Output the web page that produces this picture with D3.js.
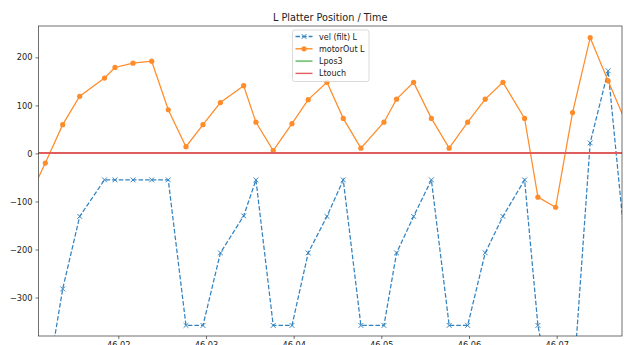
<!DOCTYPE html>
<html>
<head>
<meta charset="utf-8">
<script src="https://cdn.jsdelivr.net/npm/d3@7"></script>
<style>
  body { margin: 0; background: #fff; }
  text { font-family: 'DejaVu Sans', sans-serif; fill: #222; }
</style>
</head>
<body>
<div id="chart"></div>
<script>
const times = [
  46.00959, 46.01168, 46.01366, 46.0156, 46.01843, 46.01962, 46.02168, 46.02381,
  46.0257, 46.02772, 46.02966, 46.03165, 46.0343, 46.0357, 46.03767, 46.03981,
  46.04166, 46.0438, 46.04566, 46.04767, 46.0503, 46.05174, 46.05368, 46.05571,
  46.05774, 46.05985, 46.06185, 46.06387, 46.06634, 46.06786, 46.06988, 46.07181,
  46.07382, 46.07587, 46.07789,
];
const velFilt = [
  -600, -500, -282, -131, -55, -55, -55, -55,
  -55, -358, -358, -207, -130, -55, -358, -358,
  -207, -131, -55, -358, -358, -207, -131, -55,
  -358, -358, -207, -131, -55, -358, -550, -500,
  22, 172, -207,
];
const motorOut = [
  -100, -20, 60, 119, 157, 179, 188, 192,
  91, 14, 60, 106, 141, 65, 6, 62,
  112, 148, 73, 11, 65, 113, 148, 73,
  11, 65, 113, 148, 73, -91, -112, 85,
  241, 151, 65,
];
const lpos3 = times.map(() => 0);
const ltouch = times.map(() => 0);
const yTicks = [-300, -200, -100, 0, 100, 200];
const xTicks = [46.02, 46.03, 46.04, 46.05, 46.06, 46.07];
const legendLabels = ['vel (filt) L', 'motorOut L', 'Lpos3', 'Ltouch'];
const colors = ['#3383c0', '#ff8c2a', '#5cb85c', '#e05d5e'];

const W = 624;
const H = 345;
const plot = { left: 38.5, right: 622, top: 26, bottom: 336 };

const x = d3.scaleLinear()
  .domain([46.0109, 46.07745])
  .range([plot.left, plot.right]);
const y = d3.scaleLinear()
  .domain([-380, 265.3])
  .range([plot.bottom, plot.top]);

const svg = d3.select('#chart')
  .append('svg')
  .attr('width', W)
  .attr('height', H);

svg.append('rect')
  .attr('width', W)
  .attr('height', H)
  .attr('fill', '#fff');

svg.append('defs')
  .append('clipPath')
  .attr('id', 'clip')
  .append('rect')
  .attr('x', plot.left)
  .attr('y', plot.top)
  .attr('width', plot.right - plot.left)
  .attr('height', plot.bottom - plot.top);

// axes
const fmt = d => d3.format('d')(d).replace('-', '\u2212');

const yAxis = svg.append('g')
  .attr('transform', `translate(${plot.left},0)`)
  .call(d3.axisLeft(y).tickValues(yTicks).tickSize(3).tickPadding(3).tickFormat(fmt));
const xAxis = svg.append('g')
  .attr('transform', `translate(0,${plot.bottom})`)
  .call(d3.axisBottom(x).tickValues(xTicks).tickSize(3).tickPadding(3).tickFormat(d3.format('.2f')));

[yAxis, xAxis].forEach((ax) => {
  ax.select('.domain').remove();
  ax.selectAll('line').attr('stroke', '#333').attr('stroke-width', 0.7);
  ax.selectAll('text').attr('font-size', 8.2).attr('fill', '#222')
    .attr('font-family', "'DejaVu Sans', sans-serif");
});

// series (flat reference lines drawn crisp so red sits cleanly over green)
const series = [
  { values: velFilt, color: colors[0], dash: '4.6,2', marker: 'x', width: 1.25, crisp: false },
  { values: motorOut, color: colors[1], dash: null, marker: 'o', width: 1.25, crisp: false },
  { values: lpos3, color: colors[2], dash: null, marker: null, width: 2, crisp: true },
  { values: ltouch, color: colors[3], dash: null, marker: null, width: 2, crisp: true },
];

const line = d3.line()
  .x(d => x(d[0]))
  .y(d => y(d[1]));

const g = svg.append('g').attr('clip-path', 'url(#clip)');

function drawMarker(sel, kind, color) {
  if (kind === 'o') {
    sel.append('circle')
      .attr('r', 2.6)
      .attr('fill', color);
  } else if (kind === 'x') {
    sel.append('path')
      .attr('d', 'M-2.4,-2.4L2.4,2.4M-2.4,2.4L2.4,-2.4')
      .attr('stroke', color)
      .attr('stroke-width', 1);
  }
}

series.forEach((s) => {
  const pts = times.map((t, i) => [t, s.values[i]]);
  g.append('path')
    .datum(pts)
    .attr('d', line)
    .attr('fill', 'none')
    .attr('stroke', s.color)
    .attr('stroke-width', s.width)
    .attr('stroke-dasharray', s.dash)
    .attr('shape-rendering', s.crisp ? 'crispEdges' : null);
  if (s.marker) {
    g.selectAll(null)
      .data(pts)
      .enter()
      .append('g')
      .attr('transform', d => `translate(${x(d[0])},${y(d[1])})`)
      .each(function () { drawMarker(d3.select(this), s.marker, s.color); });
  }
});

// frame
svg.append('rect')
  .attr('x', plot.left)
  .attr('y', plot.top)
  .attr('width', plot.right - plot.left)
  .attr('height', plot.bottom - plot.top)
  .attr('fill', 'none')
  .attr('stroke', '#333')
  .attr('stroke-width', 0.7);

// title
svg.append('text')
  .attr('x', (plot.left + plot.right) / 2)
  .attr('y', 21)
  .attr('text-anchor', 'middle')
  .attr('font-size', 9.7)
  .text('L Platter Position / Time');

// legend
const legend = svg.append('g')
  .attr('transform', 'translate(292.5,30)');

legend.append('rect')
  .attr('width', 76.5)
  .attr('height', 51.5)
  .attr('rx', 2)
  .attr('fill', '#fff')
  .attr('fill-opacity', 0.8)
  .attr('stroke', '#ccc')
  .attr('stroke-width', 0.7);

legendLabels.forEach((label, i) => {
  const s = series[i];
  const row = legend.append('g')
    .attr('transform', `translate(0,${6.5 + i * 12.3})`);
  row.append('line')
    .attr('x1', 3)
    .attr('x2', 20)
    .attr('stroke', s.color)
    .attr('stroke-width', 1.4)
    .attr('stroke-dasharray', s.dash);
  if (s.marker) {
    const m = row.append('g').attr('transform', 'translate(11.5,0)');
    drawMarker(m, s.marker, s.color);
  }
  row.append('text')
    .attr('x', 26.5)
    .attr('y', 3)
    .attr('font-size', 8)
    .attr('fill', '#111')
    .text(label);
});
</script>
</body>
</html>
